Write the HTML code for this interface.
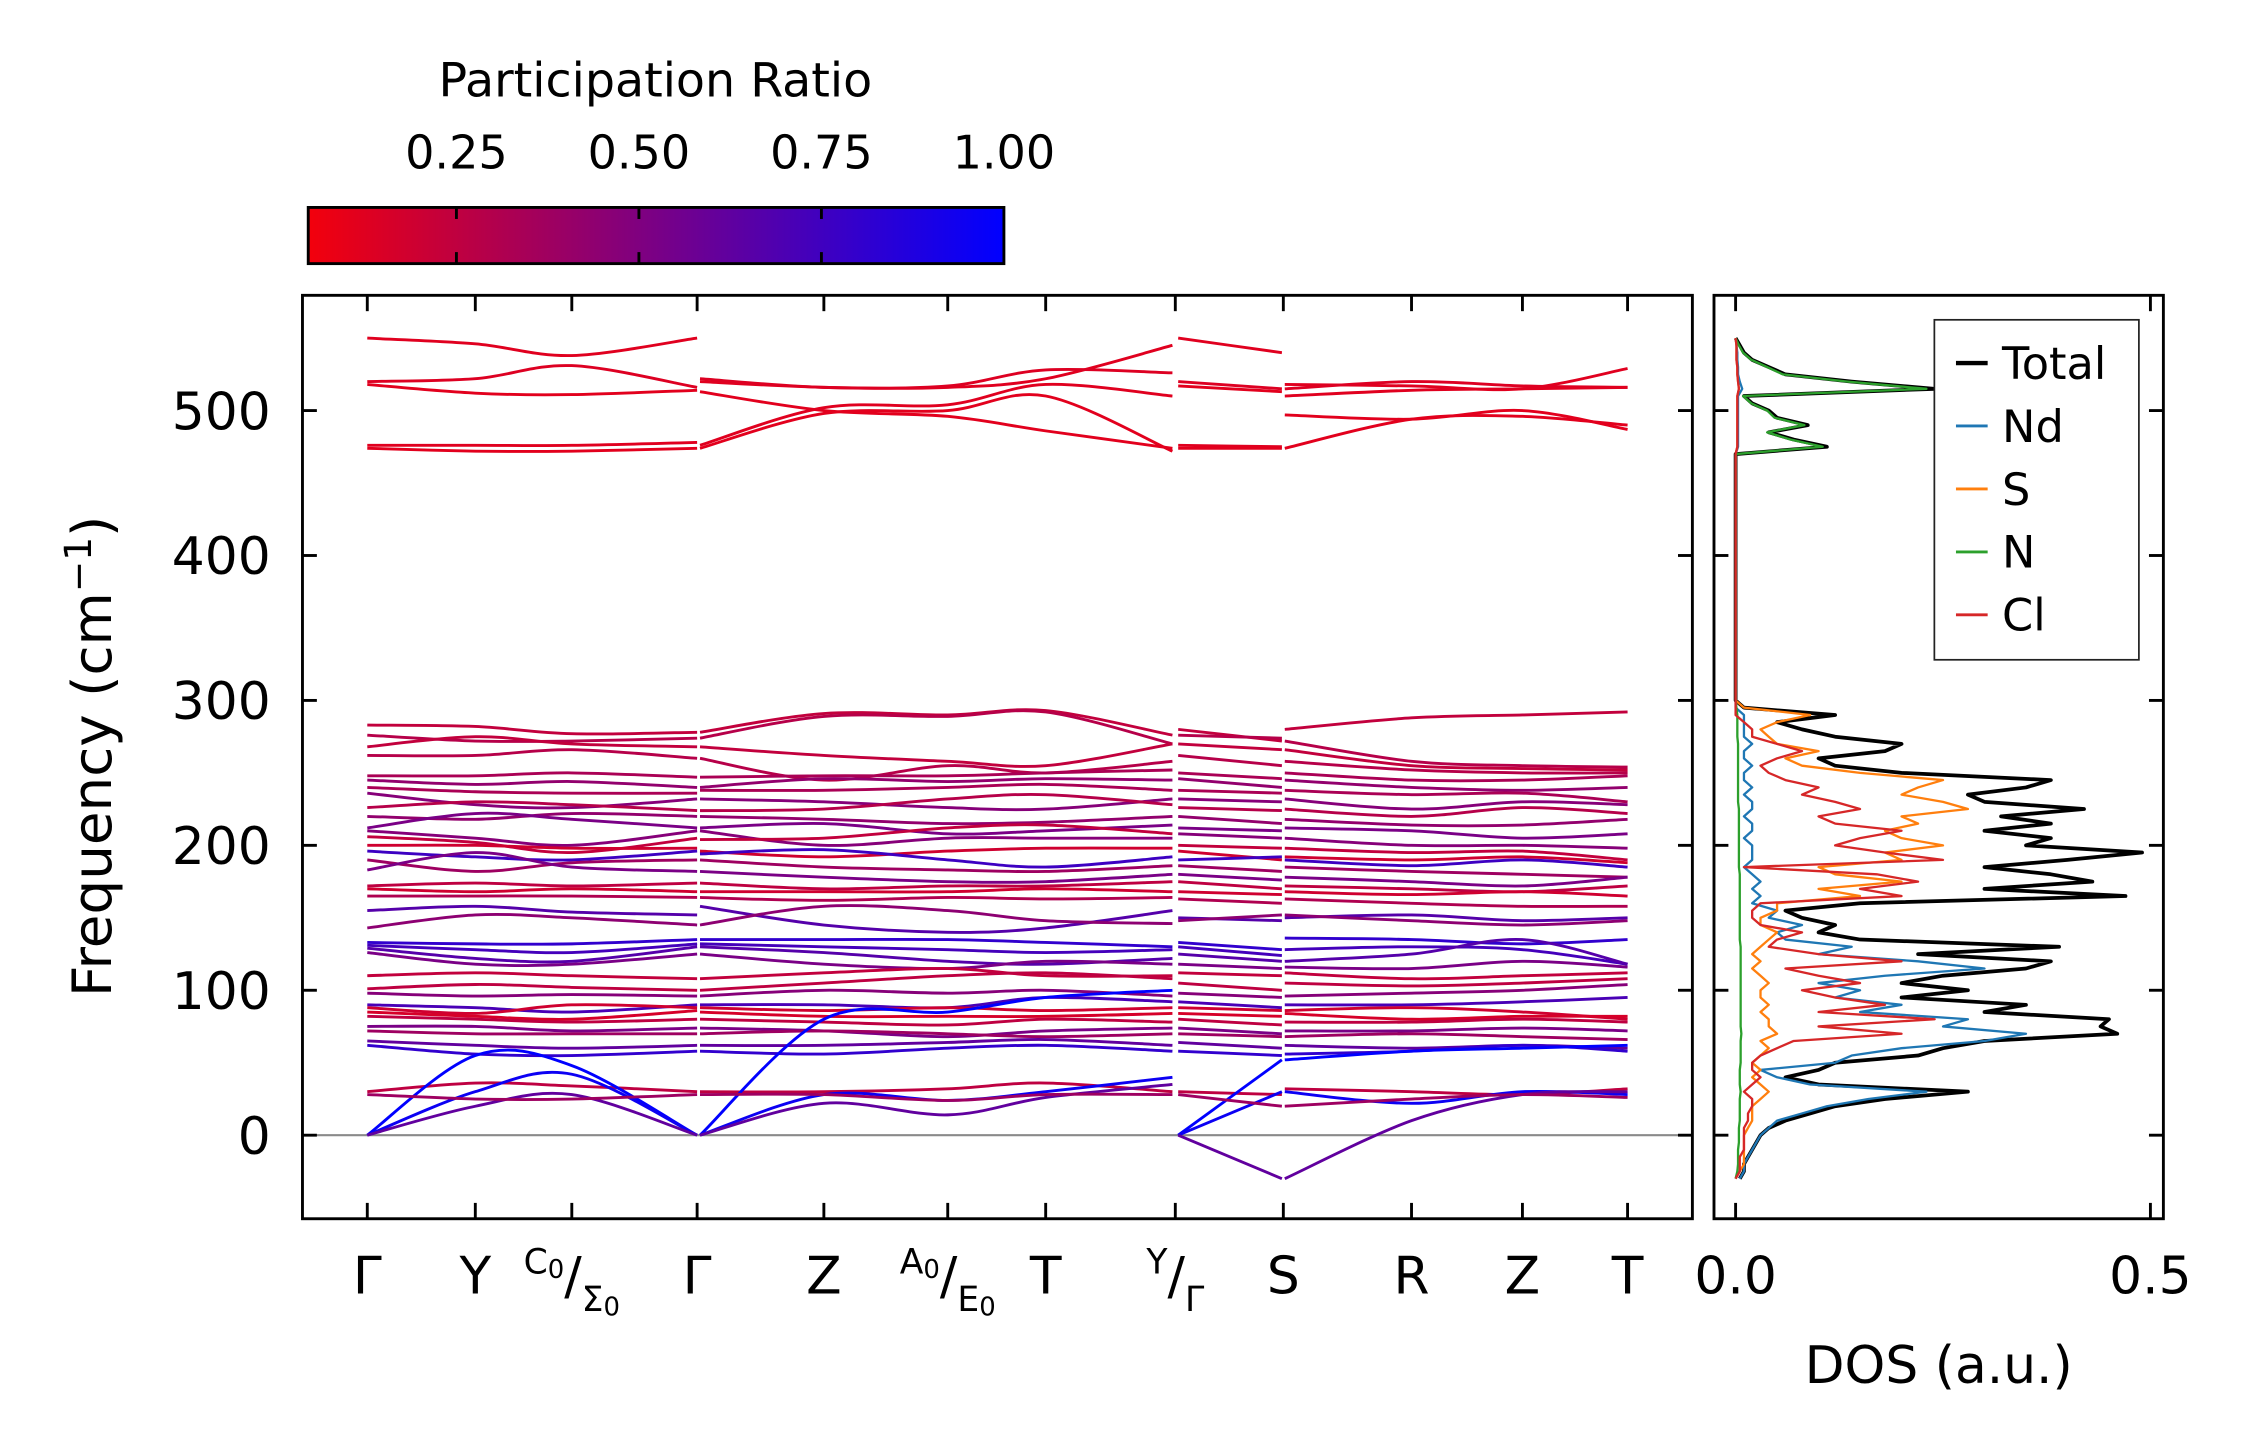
<!DOCTYPE html>
<html><head><meta charset="utf-8"><title>Phonon bands and DOS</title>
<style>html,body{margin:0;padding:0;background:#fff}svg{display:block}text{font-family:"DejaVu Sans","Liberation Sans",sans-serif;fill:#000}</style>
</head><body>
<svg id="chart" xmlns="http://www.w3.org/2000/svg" width="2257" height="1455" viewBox="0 0 1567 1010" preserveAspectRatio="none">
<defs>
<linearGradient id="cbgrad" x1="0" x2="1" y1="0" y2="0">
<stop offset="0" stop-color="rgb(243,0,12)"/><stop offset="1" stop-color="rgb(0,0,255)"/>
</linearGradient>
<clipPath id="mainclip"><rect x="211" y="206" width="963" height="639"/></clipPath>
<clipPath id="dosclip"><rect x="1191" y="206" width="310" height="639"/></clipPath>
</defs>
<g>
<text x="455" y="67" font-size="33" text-anchor="middle">Participation Ratio</text>
<rect x="214" y="144" width="483" height="39" fill="url(#cbgrad)" stroke="#000" stroke-width="2"/>
<g id="cbticks"></g>
</g>
<g id="main">
<line x1="211" x2="1174" y1="788" y2="788" stroke="#8a8a8a" stroke-width="1.5"/>
<g id="bands" clip-path="url(#mainclip)"></g>
<rect x="210" y="205" width="965" height="641" fill="none" stroke="#000" stroke-width="2"/>
<g id="mainticks"></g>
<text transform="translate(77,525) rotate(-90)" font-size="38" text-anchor="middle">Frequency (cm<tspan dy="-14" font-size="26">−1</tspan><tspan dy="14">)</tspan></text>
</g>
<g id="dos">
<g id="dosLines" clip-path="url(#dosclip)"></g>
<rect x="1190" y="205" width="312" height="641" fill="none" stroke="#000" stroke-width="2"/>
<g id="dosticks"></g>
<text x="1346" y="960" font-size="36" text-anchor="middle">DOS (a.u.)</text>
<g>
<rect x="1343" y="222" width="142" height="236" fill="#fff" stroke="#222" stroke-width="1.2"/>
<g id="legend"></g>
</g>
</g>
</svg>
<script>
// ---- Data ----
const kLabelsPlain = ["Γ","Y","C0/Σ0","Γ","Z","A0/E0","T","Y/Γ","S","R","Z","T"];
const kDist = [0,75,142,229,317,403,471,561,636,725,802,875];
const yTicks = [0,100,200,300,400,500];
const cbTicks = [0.25,0.5,0.75,1.0];
const dosXTicks = [0.0,0.5];
// band values per segment: A Γ-Y-C0-Γ, B Γ-Z-A0-T-Y, C Γ-S, D S-R-Z-T
const bandsA = [
[550,546,538,550],[520,522,531,516],[518,512,511,514],[476,476,476,478],[474,472,472,474],
[283,282,277,278],[276,272,272,274],[268,275,270,268],[262,262,266,260],[248,248,250,247],
[245,242,244,240],[240,237,236,236],[236,228,226,232],[226,230,228,224],[220,218,222,220],
[212,222,218,212],[210,205,200,210],[206,202,195,205],[200,200,198,198],[196,192,190,196],
[190,182,188,190],[183,195,185,182],[172,174,172,174],[170,168,170,168],[165,165,165,164],
[155,158,154,152],[143,152,150,145],[133,132,132,135],[131,128,126,132],[129,122,120,130],
[126,118,118,125],[110,112,110,108],[101,104,102,100],[98,96,97,96],[90,88,85,90],
[88,84,90,88],[85,82,80,86],[82,80,78,80],[75,75,72,74],[72,70,70,70],
[65,62,60,62],[62,56,55,58],[30,36,34,30],[0,55,48,0],[0,30,42,0],[0,20,28,0],[28,25,25,28]];
const bandsB = [
[520,516,516,522,545],[522,516,517,528,526],[513,500,496,486,474],[476,502,504,518,510],[474,498,500,510,472],
[278,291,290,293,276],[274,289,289,292,270],[268,262,258,255,270],[260,245,255,250,258],[247,248,248,250,252],
[240,246,244,246,245],[238,238,240,242,238],[232,230,226,225,232],[224,225,232,235,228],[220,218,215,216,220],
[212,215,208,210,214],[210,200,205,205,205],[204,205,212,214,208],[196,192,196,198,198],[194,197,190,185,192],
[190,185,183,182,186],[182,178,175,175,180],[174,170,172,172,175],[168,168,168,170,168],[164,162,164,163,164],
[158,145,140,143,155],[145,158,155,148,146],[135,135,135,133,130],[132,130,128,126,128],[130,126,120,118,122],
[125,118,115,120,118],[108,112,115,110,110],[100,105,110,112,108],[96,100,98,100,96],[90,90,88,95,92],
[88,86,88,86,88],[85,82,82,82,84],[80,78,76,80,78],[74,72,68,72,74],[70,72,70,68,70],
[62,62,64,66,62],[58,56,60,62,58],[30,30,32,36,30],[0,80,85,95,100],[0,28,24,30,40],[0,22,14,26,35],[28,28,24,28,28]];
const bandsC = [
[550,540],[520,515],[517,513],[476,475],[474,474],
[280,272],[276,274],[270,266],[262,255],[250,246],
[246,240],[238,236],[232,230],[226,224],[220,215],
[212,210],[208,205],[200,198],[196,190],[190,192],
[186,182],[180,176],[175,170],[168,166],[163,160],
[150,148],[148,152],[133,128],[130,124],[125,120],
[118,115],[112,110],[105,100],[98,95],[92,88],
[88,86],[84,82],[80,76],[74,70],[70,68],
[64,60],[58,55],[30,28],[0,52],[0,30],[0,-30],[28,20]];
const bandsD = [
[518,517,515,529],[515,520,517,516],[497,494,500,487],[510,514,515,516],[474,494,496,490],
[280,288,290,292],[272,258,255,254],[266,255,253,252],[258,252,250,250],[250,245,245,248],
[245,240,238,240],[238,235,236,230],[232,225,230,228],[225,220,226,222],[218,214,214,218],
[212,210,205,208],[205,200,200,198],[198,195,196,190],[192,190,192,188],[190,186,190,185],
[185,182,180,178],[178,175,172,178],[172,170,168,172],[168,166,168,165],[163,160,158,158],
[150,152,148,150],[152,148,145,148],[136,135,132,135],[128,130,128,118],[120,125,135,118],
[116,115,120,116],[112,108,110,112],[105,103,105,108],[96,98,100,104],[90,90,92,95],
[86,88,85,80],[84,80,82,82],[78,78,80,78],[72,72,74,72],[68,70,68,66],
[62,60,62,60],[56,58,62,58],[32,30,28,32],[52,58,60,62],[30,22,30,28],[-30,10,28,30],[20,25,28,26]];
const bandPR = [0.08,0.09,0.07,0.08,0.07,
0.2,0.25,0.2,0.25,0.3,0.4,0.3,0.45,0.25,0.4,0.5,0.45,0.2,0.15,0.75,0.35,0.5,0.22,0.15,0.28,
0.65,0.42,0.8,0.72,0.65,0.5,0.2,0.22,0.45,0.7,0.15,0.12,0.22,0.5,0.35,0.6,0.8,0.22,1.0,0.95,0.6,0.35];

const dosFreq = [-30,-25,-20,-15,-10,-5,0,5,10,15,20,25,30,35,40,45,50,55,60,65,70,75,80,85,90,95,100,105,110,115,120,125,130,135,140,145,150,155,160,165,170,175,180,185,190,195,200,205,210,215,220,225,230,235,240,245,250,255,260,265,270,275,280,285,290,295,300,305,465,470,475,480,485,490,495,500,505,510,515,520,525,530,535,540,545,550];
const dosTotal = [.005,.01,.01,.015,.02,.025,.03,.04,.06,.09,.12,.18,.28,.1,.06,.1,.12,.22,.25,.3,.46,.44,.45,.3,.35,.2,.28,.2,.25,.35,.38,.22,.39,.15,.1,.12,.08,.06,.15,.47,.3,.43,.38,.3,.4,.49,.35,.38,.3,.38,.32,.42,.3,.28,.35,.38,.2,.12,.1,.18,.2,.12,.08,.05,.12,.01,0,0,0,0,.11,.07,.04,.087,.05,.04,.02,.01,.24,.14,.06,.04,.02,.01,.005,0];
const dosNd = [.005,.01,.01,.015,.02,.025,.03,.04,.05,.08,.11,.16,.23,.09,.05,.03,.12,.14,.2,.3,.35,.25,.28,.15,.2,.12,.15,.1,.18,.3,.22,.1,.14,.06,.05,.08,.04,.05,.02,.03,.02,.03,.02,.01,.02,.02,.02,.01,.02,.02,.01,.02,.02,.01,.02,.01,.01,.02,.01,.01,.02,.01,.01,.01,.01,0,0,0,0,0,.003,.003,.003,.003,.003,.003,.003,.003,.008,.005,.003,.003,.002,.002,.001,0];
const dosS = [0,.005,.01,.01,.01,.01,.01,.015,.02,.02,.02,.03,.04,.03,.02,.03,.02,.03,.04,.03,.05,.04,.04,.03,.04,.03,.03,.04,.03,.02,.03,.02,.03,.04,.05,.03,.03,.05,.05,.15,.1,.2,.12,.1,.2,.18,.25,.2,.18,.22,.2,.28,.25,.2,.22,.25,.15,.08,.06,.1,.05,.04,.03,.05,.09,.01,0,0,0,0,.002,.002,.002,.002,.002,.002,.002,.002,.004,.003,.002,.002,.001,.001,.001,0];
const dosN = [0,.002,.003,.003,.003,.004,.004,.004,.005,.005,.005,.005,.006,.005,.005,.005,.006,.006,.006,.006,.007,.006,.006,.006,.006,.006,.006,.006,.006,.006,.006,.006,.006,.005,.005,.005,.005,.005,.005,.005,.005,.005,.005,.004,.004,.004,.004,.004,.004,.004,.004,.004,.003,.003,.003,.003,.003,.003,.003,.003,.003,.002,.002,.002,.002,.001,0,0,0,0,.105,.066,.038,.083,.047,.038,.019,.009,.23,.135,.057,.038,.019,.009,.004,0];
const dosCl = [0,.005,.005,.005,.01,.01,.01,.01,.015,.015,.02,.02,.01,.02,.03,.02,.02,.03,.05,.07,.2,.1,.24,.1,.18,.12,.08,.15,.1,.06,.2,.1,.04,.05,.08,.03,.02,.02,.03,.2,.15,.22,.17,.01,.25,.18,.12,.15,.2,.12,.1,.15,.12,.08,.1,.06,.04,.03,.05,.08,.05,.02,.02,.01,0,0,0,0,0,0,.002,.002,.002,.002,.002,.002,.002,.002,.004,.003,.002,.002,.001,.001,.001,0];

// ---- Scales ----
const SVGNS = "http://www.w3.org/2000/svg";
const X0 = 255;
function kx(d){ return X0 + d; }
function fy(f){ return 788 - f * 1.006; }
function dx(v){ return 1205 + v * 576; }
function cbx(v){ return 214 + (v - 0.047) / (1 - 0.047) * 483; }
function prColor(t){ t=Math.max(0,Math.min(1,t)); return "rgb("+Math.round(243*(1-t))+",0,"+Math.round(12+243*t)+")"; }
function mk(tag, attrs, parent){ const e=document.createElementNS(SVGNS,tag); for(const k in attrs) e.setAttribute(k,attrs[k]); parent.appendChild(e); return e; }

function crPath(pts){
  let d = "M"+pts[0][0].toFixed(1)+","+pts[0][1].toFixed(1);
  for(let i=0;i<pts.length-1;i++){
    const p0=pts[i>0?i-1:i], p1=pts[i], p2=pts[i+1], p3=pts[i+2<pts.length?i+2:i+1];
    const c1=[p1[0]+(p2[0]-p0[0])/6, p1[1]+(p2[1]-p0[1])/6];
    const c2=[p2[0]-(p3[0]-p1[0])/6, p2[1]-(p3[1]-p1[1])/6];
    d += " C"+c1[0].toFixed(1)+","+c1[1].toFixed(1)+" "+c2[0].toFixed(1)+","+c2[1].toFixed(1)+" "+p2[0].toFixed(1)+","+p2[1].toFixed(1);
  }
  return d;
}

// ---- Bands ----
const segIdx = [[0,1,2,3],[3,4,5,6,7],[7,8],[8,9,10,11]];
const segOff = [[0,0],[2,-2],[2,-1],[1,0]];
const bandsG = document.getElementById("bands");
const segData = [bandsA,bandsB,bandsC,bandsD];
for(let b=0;b<bandPR.length;b++){
  for(let s=0;s<4;s++){
    const vals = segData[s][b];
    const pts = vals.map((v,i)=>[kx(kDist[segIdx[s][i]]) + (i===0?segOff[s][0]:(i===vals.length-1?segOff[s][1]:0)), fy(v)]);
    const p = mk("path",{d:crPath(pts),fill:"none",stroke:prColor(bandPR[b]),"stroke-width":"2","stroke-linecap":"butt"},bandsG);
    
    
  }
}

// ---- Main axis ticks ----
const mt = document.getElementById("mainticks");
yTicks.forEach(v=>{
  const y=fy(v);
  const a=mk("line",{x1:210,x2:220,y1:y,y2:y,stroke:"#000","stroke-width":2},mt);
  
  
  const b=mk("line",{x1:1165,x2:1175,y1:y,y2:y,stroke:"#000","stroke-width":2},mt);
  
  
  const t=mk("text",{x:188,y:y+13,"font-size":36,"text-anchor":"end"},mt);
  t.textContent=String(v);
  
  
  const c=mk("line",{x1:1190,x2:1200,y1:y,y2:y,stroke:"#000","stroke-width":2},mt);
  
  
  const d=mk("line",{x1:1492,x2:1502,y1:y,y2:y,stroke:"#000","stroke-width":2},mt);
  
  
});
kDist.forEach((d,i)=>{
  const x=kx(d);
  const a=mk("line",{x1:x,x2:x,y1:205,y2:216,stroke:"#000","stroke-width":2},mt);
  
  
  const b=mk("line",{x1:x,x2:x,y1:835,y2:846,stroke:"#000","stroke-width":2},mt);
  
  
  const lab=kLabelsPlain[i];
  const t=mk("text",{x:x,y:898,"font-size":36,"text-anchor":"middle"},mt);
  
  
  if(lab.indexOf("/")<0){ t.textContent=lab; }
  else {
    const parts=lab.split("/");
    const up=parts[0], dn=parts[1];
    function addPart(s, dy){
      const m=s.match(/^(.*?)(0?)$/);
      const a1=mk("tspan",{"font-size":24,dy:dy},t); a1.textContent=m[1];
      let back=0;
      if(m[2]){ const a2=mk("tspan",{"font-size":18,dy:3},t); a2.textContent="0"; back=3; }
      return back;
    }
    const b1=addPart(up,-14);
    const s2=mk("tspan",{"font-size":36,dy:14-b1},t); s2.textContent="/";
    addPart(dn,12);
  }
});

// ---- Colorbar ticks ----
const cbt=document.getElementById("cbticks");
cbTicks.forEach(v=>{
  const x=cbx(v);
  if(v<1){
    const a=mk("line",{x1:x,x2:x,y1:144,y2:152,stroke:"#000","stroke-width":2},cbt);
    
    
    const b=mk("line",{x1:x,x2:x,y1:175,y2:183,stroke:"#000","stroke-width":2},cbt);
    
    
  }
  const t=mk("text",{x:x,y:117,"font-size":32,"text-anchor":"middle"},cbt);
  t.textContent=v.toFixed(2);
  
  
});

// ---- DOS ----
const dl=document.getElementById("dosLines");
const dosSeries=[["Total",dosTotal,"#000000",2.6],["Nd",dosNd,"#1f77b4",1.6],["S",dosS,"#ff7f0e",1.6],["N",dosN,"#2ca02c",1.6],["Cl",dosCl,"#d62728",1.6]];
dosSeries.forEach(s=>{
  const pts=s[1].map((v,i)=>dx(v).toFixed(1)+","+fy(dosFreq[i]).toFixed(1)).join(" ");
  const p=mk("polyline",{points:pts,fill:"none",stroke:s[2],"stroke-width":s[3],"stroke-linejoin":"round"},dl);
  
  
});
const dt=document.getElementById("dosticks");
dosXTicks.forEach(v=>{
  const x=dx(v);
  const a=mk("line",{x1:x,x2:x,y1:205,y2:216,stroke:"#000","stroke-width":2},dt);
  
  
  const b=mk("line",{x1:x,x2:x,y1:835,y2:846,stroke:"#000","stroke-width":2},dt);
  
  
  const t=mk("text",{x:x,y:898,"font-size":36,"text-anchor":"middle"},dt);
  t.textContent=v.toFixed(1);
  
  
});
const lg=document.getElementById("legend");
dosSeries.forEach((s,i)=>{
  const y=252+i*43.7;
  const l=mk("line",{x1:1358,x2:1380,y1:y,y2:y,stroke:s[2],"stroke-width":s[0]==="Total"?3:2},lg);
  
  
  const t=mk("text",{x:1390,y:y+11,"font-size":31},lg);
  t.textContent=s[0];
  
  
});
</script>
</body></html>
